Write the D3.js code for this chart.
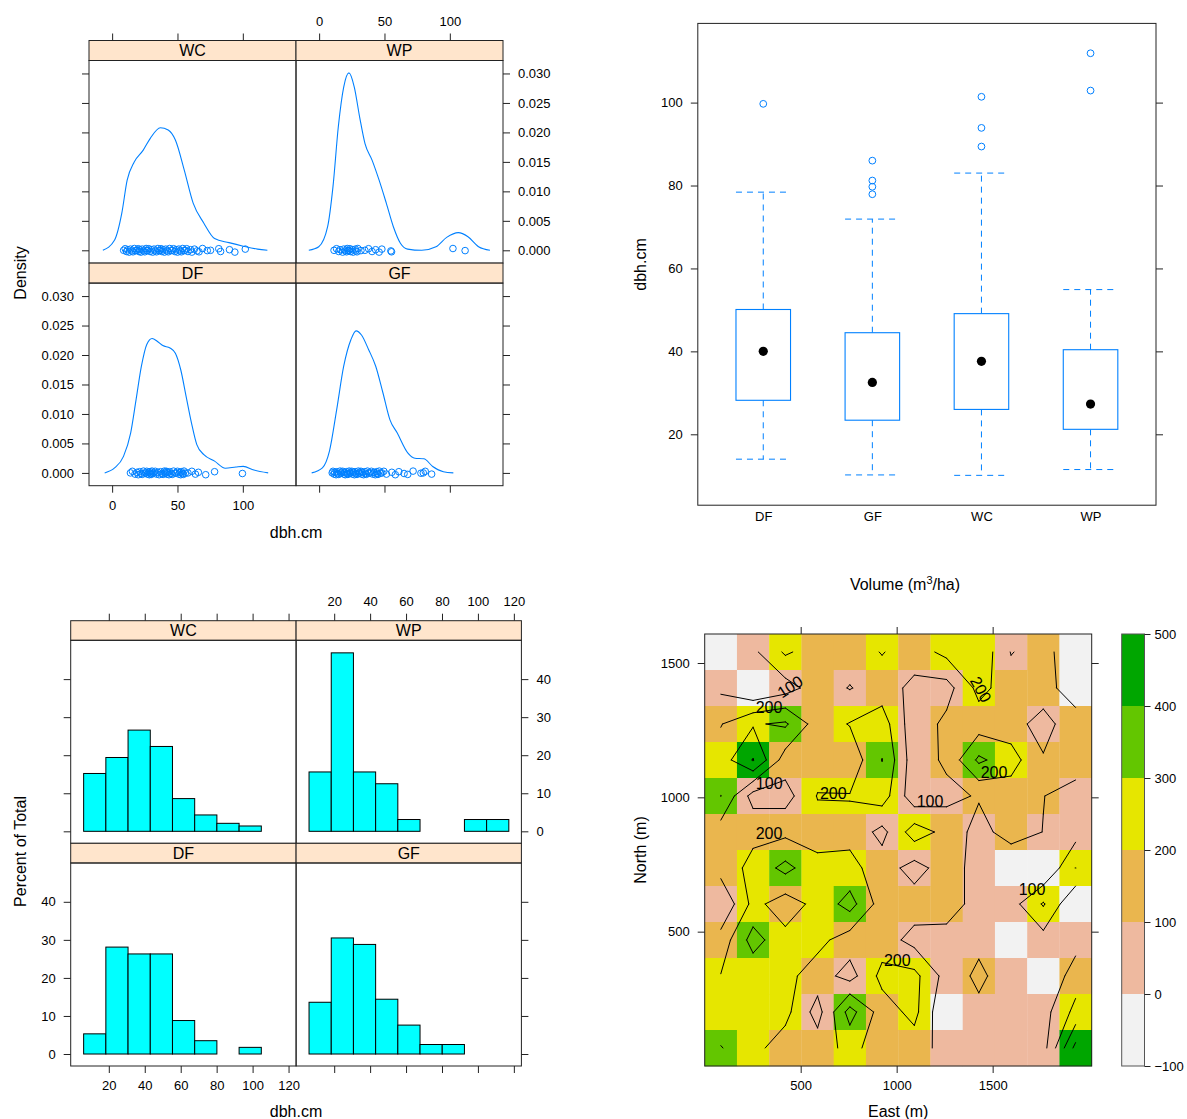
<!DOCTYPE html>
<html><head><meta charset="utf-8">
<script src="https://cdn.jsdelivr.net/npm/d3@7"></script>
<style>
body{margin:0;background:#fff}
svg{display:block}
</style></head>
<body><svg id="chart"></svg>
<script>
// ================= DATA =================
const speciesOrder = ["DF", "GF", "WC", "WP"];
const trellisLayout = [["WC", "WP"], ["DF", "GF"]]; // rows top -> bottom

// density curves [dbh, density]
const densityDF = [[-5.7,0],[1.9,0.00085],[8.7,0.0028],[14.2,0.0068],[18.3,0.0124],[22.4,0.0181],[26.5,0.0218],[30.6,0.0228],[34.7,0.0223],[38.8,0.0216],[44.3,0.0212],[48.4,0.0203],[52.5,0.0175],[56.6,0.0130],[60.7,0.0085],[64.8,0.0048],[70.2,0.0031],[78.4,0.0020],[86.6,0.0008],[94.8,0.0010],[100.3,0.0011],[108.5,0.0005],[119.4,0]];
const densityGF = [[-5.7,0],[2.5,0.00085],[7.9,0.0037],[13.4,0.0107],[18.8,0.0181],[24.3,0.0226],[28.3,0.0241],[32.4,0.0234],[37.9,0.0209],[43.3,0.0181],[48.8,0.0136],[54.2,0.0090],[59.7,0.0068],[67.8,0.0034],[73.3,0.0025],[80.1,0.0024],[86.9,0.0011],[95.1,0.0002],[102.7,0]];
const densityWC = [[-7.1,0],[1.9,0.00175],[7.4,0.0063],[11.5,0.0119],[16.9,0.0150],[23.8,0.0170],[29.2,0.0190],[36.9,0.0208],[42.9,0.0204],[48.4,0.0187],[55.2,0.0136],[62.0,0.0080],[70.2,0.0046],[78.4,0.0020],[89.4,0.0013],[100.3,0.0007],[111.2,0.0002],[118.8,0]];
const densityWP = [[-7.9,0],[-0.3,0.0006],[6.5,0.0040],[10.6,0.0108],[14.7,0.0210],[18.8,0.0277],[22.8,0.0301],[26.9,0.0277],[31.0,0.0226],[35.1,0.0181],[40.5,0.0153],[45.9,0.0119],[51.4,0.0080],[56.8,0.0040],[62.2,0.0012],[67.7,0.0002],[78.5,0],[89.4,0.0006],[97.6,0.0022],[106.5,0.0030],[113.9,0.0023],[122.0,0.0006],[130.7,0]];

// observed dbh (rug points)
const rugDF = [14,15.5,17.5,19,20,21,22,23,24,25,26,26.5,27,28,28.5,29,29.5,30,30.5,31,32,33,34,35,36,37,38,39,40,40.5,41,41.5,42,42.5,43.5,44,45,46,47,48,49,50,51,52,52.5,53,54,54.5,55,56,58,61,63.7,66,71.6,78.4,99.7];
const rugGF = [10,10.6,11.5,12,13,13.5,14,15,16,16.5,17,18,19,19.5,20,21,21.5,22,23,23.5,24,25,25.5,26,27,27.5,28,29,30,30.5,31,32,32.5,33,34,35,35.5,36,37,38,39,40,41,42,43,44,44.5,45,46,47,48,49.5,51.5,55.6,58.3,61,65,67.8,71.9,77.9,79.7,81.2,86.1];
const rugWC = [8.8,10,11,12,13,14,15,16,17,18,19,20,20.5,21,22,23,24,25,26,26.5,27,28,29,30,31,32,33,34,35,36,37,37.5,38,39,40,41,42,43,44,45,46,47,48,49,50,51,52,53,54,55,56,57,58,60,61,63,65,66.5,69.2,72.8,75.3,81.6,83,89.8,93.9,101.9];
const rugWP = [11.4,13.3,15,16,18,18.8,20,21,21.5,22,22.8,23.5,24,25.5,26,27.7,28,29,29.6,32,35,37.8,40.5,43.2,45.9,48,54.9,55.4,102.4,111.7];

// histogram (percent of total)
const histBreaks = [6.0,18.36,30.71,43.07,55.42,67.78,80.13,92.49,104.84,117.2];
const histPctDF = [5.3,28.1,26.3,26.3,8.8,3.5,0,1.75,0];
const histPctGF = [13.6,30.5,28.8,14.4,7.6,2.5,2.5,0,0];
const histPctWC = [15.2,19.4,26.6,22.3,8.6,4.3,2.1,1.4,0];
const histPctWP = [15.6,46.9,15.6,12.5,3.1,0,0,3.1,3.1];

// box-and-whisker summaries (DF, GF, WC, WP)
const boxLowerWhisker = [14.0,10.2,10.1,11.5];
const boxQ1 = [28.2,23.4,26.0,21.2];
const boxMedian = [40.0,32.5,37.6,27.3];
const boxQ3 = [50.1,44.5,49.1,40.4];
const boxUpperWhisker = [78.4,71.9,83.0,54.9];
const boxOutliers = [[99.7],[77.9,79.7,81.2,86.0],[89.4,93.9,101.4],[102.9,111.9]];

// volume grid (m3/ha), rows from north (top) to south
const gridEast = [84,252,420,588,756,924,1092,1260,1428,1596,1764,1932];
const gridNorth = [1541,1407,1273,1139,1005,871,737,603,469,335,201,67];
const volumeGrid = [
 [0,78,215,150,150,205,150,229,280,95,150,0],
 [80,0,56,150,95,150,72,60,230,150,170,0],
 [195,290,315,150,205,250,36,125,150,150,50,185],
 [250,405,150,150,132,302,40,120,320,240,112,150],
 [301,60,60,205,205,250,36,70,110,150,102,60],
 [150,175,175,159,170,70,250,170,60,150,98,60],
 [140,230,330,230,230,150,60,150,60,0,0,201],
 [5,230,150,230,340,150,150,150,60,60,210,0],
 [140,340,230,230,150,150,65,60,83,0,60,60],
 [204,230,230,150,60,230,230,60,115,60,0,150],
 [230,230,230,60,340,150,230,0,83,60,60,230],
 [305,230,150,150,230,150,150,60,60,60,60,430]
];
const cellEastSize = 168, cellNorthSize = 134;
const colorBreaks = [-100,0,100,200,300,400,500];
const colorFills = ["#F2F2F2","#EEB99F","#EAB64E","#E6E600","#63C600","#00A600"];
const contourLevels = [100,200,300,400];
const contourLabels = [
 {east:444,north:1412,text:"100",angle:-33},
 {east:335,north:1335,text:"200",angle:0},
 {east:1439,north:1402,text:"200",angle:61},
 {east:1507,north:1095,text:"200",angle:0},
 {east:336,north:1052,text:"100",angle:0},
 {east:670,north:1017,text:"200",angle:0},
 {east:1174,north:984,text:"100",angle:0},
 {east:335,north:866,text:"200",angle:0},
 {east:1705,north:658,text:"100",angle:0},
 {east:1003,north:395,text:"200",angle:0}
];

// ================= DRAWING =================
const FONT = '"Liberation Sans", Arial, Helvetica, sans-serif';
const BLUE = "#0080ff";
const STRIP = "#ffe5cc";
const FRAME = "#222";
const TICK_FS = 13, LAB_FS = 16;

const svg = d3.select("#chart").attr("width",1187).attr("height",1119)
  .style("font-family",FONT).style("background","#fff");
svg.append("rect").attr("width",1187).attr("height",1119).attr("fill","#fff");

function styleAxis(sel){
  sel.select(".domain").remove();
  sel.selectAll(".tick line").attr("stroke",FRAME);
  sel.selectAll(".tick text").attr("fill","#000").style("font-size",TICK_FS+"px").style("font-family",FONT);
}
function label(g, text, x, y, rot, fs){
  const t = g.append("text").attr("text-anchor","middle").style("font-size",(fs||LAB_FS)+"px")
    .attr("fill","#000").text(text);
  if (rot) t.attr("transform",`translate(${x},${y}) rotate(${rot})`).attr("dy","0.36em");
  else t.attr("x",x).attr("y",y).attr("dy","0.36em");
  return t;
}

let clipCounter = 0;
function trellis(cfg){
  const g = svg.append("g");
  const nrow = cfg.layout.length, ncol = cfg.layout[0].length;
  cfg.layout.forEach((row, ri) => row.forEach((name, ci) => {
    const R = cfg.rows[ri];
    const x0 = cfg.cols[ci], x1 = cfg.cols[ci+1];
    const x = d3.scaleLinear(cfg.xDomain, [x0, x1]);
    const y = d3.scaleLinear(cfg.yDomain, [R.bottom, R.panelTop]);
    const id = "clip" + (clipCounter++);
    g.append("clipPath").attr("id",id).append("rect")
      .attr("x",x0).attr("y",R.panelTop).attr("width",x1-x0).attr("height",R.bottom-R.panelTop);
    const content = g.append("g").attr("clip-path",`url(#${id})`);
    cfg.drawPanel(content, name, x, y);
    // strip
    g.append("rect").attr("x",x0).attr("y",R.stripTop).attr("width",x1-x0).attr("height",R.panelTop-R.stripTop)
      .attr("fill",STRIP).attr("stroke",FRAME);
    g.append("text").attr("x",(x0+x1)/2).attr("y",(R.stripTop+R.panelTop)/2).attr("dy","0.36em")
      .attr("text-anchor","middle").style("font-size",LAB_FS+"px").text(name);
    // panel border
    g.append("rect").attr("x",x0).attr("y",R.panelTop).attr("width",x1-x0).attr("height",R.bottom-R.panelTop)
      .attr("fill","none").attr("stroke",FRAME);
    // axes
    if (ci === 0) g.append("g").attr("transform",`translate(${x0},0)`)
      .call(d3.axisLeft(y).tickValues(cfg.yTicks).tickSize(7).tickPadding(8).tickSizeOuter(0)
        .tickFormat(ri === nrow-1 ? cfg.yFmt : () => "")).call(styleAxis);
    if (ci === ncol-1) g.append("g").attr("transform",`translate(${x1},0)`)
      .call(d3.axisRight(y).tickValues(cfg.yTicks).tickSize(7).tickPadding(8).tickSizeOuter(0)
        .tickFormat(ri === 0 ? cfg.yFmt : () => "")).call(styleAxis);
    if (ri === 0) g.append("g").attr("transform",`translate(0,${R.stripTop})`)
      .call(d3.axisTop(x).tickValues(cfg.xTicks).tickSize(7).tickPadding(8).tickSizeOuter(0)
        .tickFormat(ci === ncol-1 ? cfg.xFmt : () => "")).call(styleAxis);
    if (ri === nrow-1) g.append("g").attr("transform",`translate(0,${R.bottom})`)
      .call(d3.axisBottom(x).tickValues(cfg.xTicks).tickSize(7).tickPadding(8).tickSizeOuter(0)
        .tickFormat(ci === 0 ? cfg.xFmt : () => "")).call(styleAxis);
  }));
  label(g, cfg.ylab, cfg.ylabPos[0], cfg.ylabPos[1], -90);
  label(g, cfg.xlab, cfg.xlabPos[0], cfg.xlabPos[1], 0);
}

// ---- 1. density plot (top-left)
const densityData = {DF:densityDF, GF:densityGF, WC:densityWC, WP:densityWP};
const rugData = {DF:rugDF, GF:rugGF, WC:rugWC, WP:rugWP};
const jitterPx = [0,-1.6,1.2,-0.6,1.8,-1.2,0.6,1.5,-1.8,0.3];
trellis({
  layout: trellisLayout,
  cols: [89, 296, 503],
  rows: [{stripTop:40.5, panelTop:60.5, bottom:263.1},{stripTop:263.1, panelTop:283.1, bottom:485.7}],
  xDomain: [-17.7, 140.7], yDomain: [-0.00217, 0.0322],
  xTicks: [0,50,100], yTicks: [0,0.005,0.01,0.015,0.02,0.025,0.03],
  xFmt: d3.format("d"), yFmt: d3.format(".3f"),
  xlab: "dbh.cm", xlabPos: [296, 532.7], ylab: "Density", ylabPos: [20, 273],
  drawPanel: (g, name, x, y) => {
    g.append("path").datum(densityData[name])
      .attr("d", d3.line().x(d => x(d[0])).y(d => y(d[1])).curve(d3.curveMonotoneX))
      .attr("fill","none").attr("stroke",BLUE).attr("stroke-width",1.1);
    g.selectAll("circle.rug").data(rugData[name]).join("circle")
      .attr("cx", d => x(d)).attr("cy", (d,i) => y(0) + jitterPx[i % jitterPx.length])
      .attr("r",3.3).attr("fill","none").attr("stroke",BLUE).attr("stroke-width",1);
  }
});

// ---- 2. histogram (bottom-left)
const histData = {DF:histPctDF, GF:histPctGF, WC:histPctWC, WP:histPctWP};
trellis({
  layout: trellisLayout,
  cols: [70.7, 296.1, 521.4],
  rows: [{stripTop:620.7, panelTop:640.3, bottom:843.3},{stripTop:843.3, panelTop:863, bottom:1066}],
  xDomain: [-1.2, 124.2], yDomain: [-3.15, 50.2],
  xTicks: [20,40,60,80,100,120], yTicks: [0,10,20,30,40],
  xFmt: d3.format("d"), yFmt: d3.format("d"),
  xlab: "dbh.cm", xlabPos: [296, 1111.5], ylab: "Percent of Total", ylabPos: [20, 851.5],
  drawPanel: (g, name, x, y) => {
    const bins = histData[name].map((p,i) => ({x0:histBreaks[i], x1:histBreaks[i+1], p}));
    g.selectAll("rect.bar").data(bins).join("rect")
      .attr("x", d => x(d.x0)).attr("width", d => x(d.x1) - x(d.x0))
      .attr("y", d => y(d.p)).attr("height", d => y(0) - y(d.p))
      .attr("fill","#00FFFF").attr("stroke","#000").attr("stroke-width",1);
  }
});

// ---- 3. box plot (top-right)
(function(){
  const g = svg.append("g");
  const L = 697.8, Rr = 1156, T = 23.4, B = 505.2;
  const x = d3.scaleLinear([0.4, 4.6], [L, Rr]);
  const y = d3.scaleLinear([2.9, 119.1], [B, T]);
  const hw = (x(1.25) - x(1));
  const boxes = speciesOrder.map((s,i) => ({s, i:i+1, lo:boxLowerWhisker[i], q1:boxQ1[i], med:boxMedian[i], q3:boxQ3[i], hi:boxUpperWhisker[i], out:boxOutliers[i]}));
  const dash = "6,5";
  boxes.forEach(b => {
    const cx = x(b.i);
    g.append("line").attr("x1",cx).attr("x2",cx).attr("y1",y(b.q3)).attr("y2",y(b.hi)).attr("stroke",BLUE).attr("stroke-dasharray",dash);
    g.append("line").attr("x1",cx).attr("x2",cx).attr("y1",y(b.q1)).attr("y2",y(b.lo)).attr("stroke",BLUE).attr("stroke-dasharray",dash);
    g.append("line").attr("x1",cx-hw).attr("x2",cx+hw).attr("y1",y(b.hi)).attr("y2",y(b.hi)).attr("stroke",BLUE).attr("stroke-dasharray",dash);
    g.append("line").attr("x1",cx-hw).attr("x2",cx+hw).attr("y1",y(b.lo)).attr("y2",y(b.lo)).attr("stroke",BLUE).attr("stroke-dasharray",dash);
    g.append("rect").attr("x",cx-hw).attr("width",2*hw).attr("y",y(b.q3)).attr("height",y(b.q1)-y(b.q3))
      .attr("fill","#fff").attr("stroke",BLUE).attr("stroke-width",1.1);
    g.append("circle").attr("cx",cx).attr("cy",y(b.med)).attr("r",4.6).attr("fill","#000");
    g.selectAll(null).data(b.out).join("circle").attr("cx",cx).attr("cy",d => y(d)).attr("r",3.4)
      .attr("fill","none").attr("stroke",BLUE);
  });
  g.append("rect").attr("x",L).attr("y",T).attr("width",Rr-L).attr("height",B-T).attr("fill","none").attr("stroke",FRAME);
  const yt = [20,40,60,80,100];
  g.append("g").attr("transform",`translate(${L},0)`).call(d3.axisLeft(y).tickValues(yt).tickSize(7).tickPadding(8).tickSizeOuter(0)).call(styleAxis);
  g.append("g").attr("transform",`translate(${Rr},0)`).call(d3.axisRight(y).tickValues(yt).tickSize(7).tickSizeOuter(0).tickFormat(() => "")).call(styleAxis);
  g.append("g").attr("transform",`translate(0,${B})`).call(d3.axisBottom(x).tickValues([1,2,3,4]).tickSize(0).tickPadding(7).tickFormat(d => speciesOrder[d-1])).call(styleAxis);
  label(g, "dbh.cm", 640, 264.5, -90);
})();

// ---- 4. level plot with contours (bottom-right)
(function(){
  const g = svg.append("g");
  const L = 704.7, Rr = 1091.7, T = 634, B = 1066;
  const x = d3.scaleLinear([0, 2016], [L, Rr]);
  const y = d3.scaleLinear([0, 1608], [B, T]);
  const colorOf = v => colorFills[Math.max(0, Math.min(colorFills.length-1, d3.bisectLeft(colorBreaks, v) - 1))];
  const cells = [];
  volumeGrid.forEach((row, r) => row.forEach((v, c) => cells.push({e:gridEast[c], n:gridNorth[r], v})));
  g.selectAll("rect.cell").data(cells).join("rect")
    .attr("x", d => x(d.e - cellEastSize/2)).attr("width", d => x(d.e + cellEastSize/2) - x(d.e - cellEastSize/2) + 0.3)
    .attr("y", d => y(d.n + cellNorthSize/2)).attr("height", d => y(d.n - cellNorthSize/2) - y(d.n + cellNorthSize/2) + 0.3)
    .attr("fill", d => colorOf(d.v));
  // contour segments (marching squares between cell centres, linear interpolation)
  const segs = [];
  const nr = volumeGrid.length, nc = volumeGrid[0].length;
  const P = (c, r) => [gridEast[c], gridNorth[r]];
  contourLevels.forEach(level => {
    for (let r = 0; r < nr-1; r++) for (let c = 0; c < nc-1; c++) {
      const tl = volumeGrid[r][c], tr = volumeGrid[r][c+1], br = volumeGrid[r+1][c+1], bl = volumeGrid[r+1][c];
      const pts = [];
      const cross = (a, b, pa, pb) => {
        if ((a >= level) !== (b >= level)) {
          const t = (level - a) / (b - a);
          pts.push([pa[0] + t*(pb[0]-pa[0]), pa[1] + t*(pb[1]-pa[1])]);
        } else pts.push(null);
      };
      cross(tl, tr, P(c,r), P(c+1,r));
      cross(tr, br, P(c+1,r), P(c+1,r+1));
      cross(br, bl, P(c+1,r+1), P(c,r+1));
      cross(bl, tl, P(c,r+1), P(c,r));
      const got = pts.filter(p => p);
      if (got.length === 2) segs.push(got);
      else if (got.length === 4) {
        const centre = (tl+tr+br+bl)/4;
        if ((centre >= level) === (tl >= level)) { segs.push([pts[0],pts[1]]); segs.push([pts[2],pts[3]]); }
        else { segs.push([pts[3],pts[0]]); segs.push([pts[1],pts[2]]); }
      }
    }
  });
  g.selectAll("line.ct").data(segs).join("line")
    .attr("x1", d => x(d[0][0])).attr("y1", d => y(d[0][1]))
    .attr("x2", d => x(d[1][0])).attr("y2", d => y(d[1][1]))
    .attr("stroke","#000").attr("stroke-width",1).attr("stroke-linecap","round");
  g.selectAll("text.cl").data(contourLabels).join("text")
    .attr("transform", d => `translate(${x(d.east)},${y(d.north)}) rotate(${d.angle})`)
    .attr("text-anchor","middle").attr("dy","0.36em").style("font-size","16px").attr("fill","#000")
    .text(d => d.text);
  g.append("rect").attr("x",L).attr("y",T).attr("width",Rr-L).attr("height",B-T).attr("fill","none").attr("stroke",FRAME);
  const et = [500,1000,1500], nt = [500,1000,1500];
  g.append("g").attr("transform",`translate(0,${B})`).call(d3.axisBottom(x).tickValues(et).tickSize(7).tickPadding(8).tickSizeOuter(0).tickFormat(d3.format("d"))).call(styleAxis);
  g.append("g").attr("transform",`translate(0,${T})`).call(d3.axisTop(x).tickValues(et).tickSize(7).tickSizeOuter(0).tickFormat(() => "")).call(styleAxis);
  g.append("g").attr("transform",`translate(${L},0)`).call(d3.axisLeft(y).tickValues(nt).tickSize(7).tickPadding(8).tickSizeOuter(0).tickFormat(d3.format("d"))).call(styleAxis);
  g.append("g").attr("transform",`translate(${Rr},0)`).call(d3.axisRight(y).tickValues(nt).tickSize(7).tickSizeOuter(0).tickFormat(() => "")).call(styleAxis);
  label(g, "East (m)", 898.2, 1111.5, 0);
  label(g, "North (m)", 640, 850, -90);
  // title with superscript
  const title = g.append("text").attr("x",905).attr("y",584).attr("dy","0.36em").attr("text-anchor","middle").style("font-size","16px");
  title.append("tspan").text("Volume (m");
  title.append("tspan").attr("dy","-6").style("font-size","11px").text("3");
  title.append("tspan").attr("dy","6").text("/ha)");
  // colour key
  const ky = d3.scaleLinear([-100, 500], [B, T]);
  const kL = 1121.7, kR = 1144.5;
  const keyBins = colorFills.map((f,i) => ({lo:colorBreaks[i], hi:colorBreaks[i+1], f}));
  g.selectAll("rect.key").data(keyBins).join("rect")
    .attr("x",kL).attr("width",kR-kL).attr("y", d => ky(d.hi)).attr("height", d => ky(d.lo) - ky(d.hi)).attr("fill", d => d.f);
  g.append("rect").attr("x",kL).attr("y",T).attr("width",kR-kL).attr("height",B-T).attr("fill","none").attr("stroke","#555");
  g.append("g").attr("transform",`translate(${kR},0)`).call(d3.axisRight(ky).tickValues(colorBreaks).tickSize(6).tickPadding(4).tickSizeOuter(0).tickFormat(d => d < 0 ? "\u2212" + Math.abs(d) : String(d))).call(styleAxis);
})();
</script></body></html>
